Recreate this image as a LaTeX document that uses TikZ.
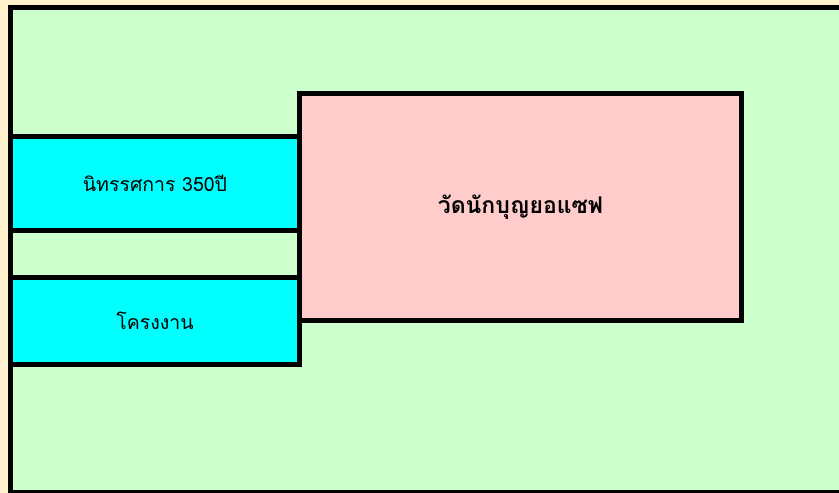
\documentclass[tikz,border=0pt]{standalone}
\usepackage{fontspec}
\newfontfamily\thaifont[Script=Thai]{Loma}
\usetikzlibrary{positioning}
\definecolor{cream}{HTML}{FFF2CC}
\definecolor{lawn}{HTML}{CCFFCC}
\definecolor{aqua}{HTML}{00FFFF}
\definecolor{rose}{HTML}{FFCCCC}
\begin{document}
\begin{tikzpicture}[x=1pt,y=-1pt,
  hall/.style={draw,line width=5pt,fill=aqua,inner sep=0pt,
    font=\thaifont\fontsize{19.5}{22}\selectfont},
  church/.style={draw,line width=5pt,fill=rose,inner sep=0pt,
    font=\thaifont\bfseries\fontsize{23}{26}\selectfont}]
\useasboundingbox (0,0) rectangle (839,493);
\clip (0,0) rectangle (839,493);
\fill[cream] (0,0) rectangle (839,493);
\draw[line width=5pt,fill=lawn] (10.5,7.5) rectangle (860,492.5);
\node[hall,minimum width=289pt,minimum height=94pt] (expo) at (155,183.5) {นิทรรศการ 350ปี};
\node[hall,minimum width=289pt,minimum height=87pt] (project) at (155,321) {โครงงาน};
\node[church,minimum width=442pt,minimum height=227pt] (wat) at (520.5,207) {\raisebox{-2pt}{วัดนักบุญยอแซฟ}};
\end{tikzpicture}
\end{document}
